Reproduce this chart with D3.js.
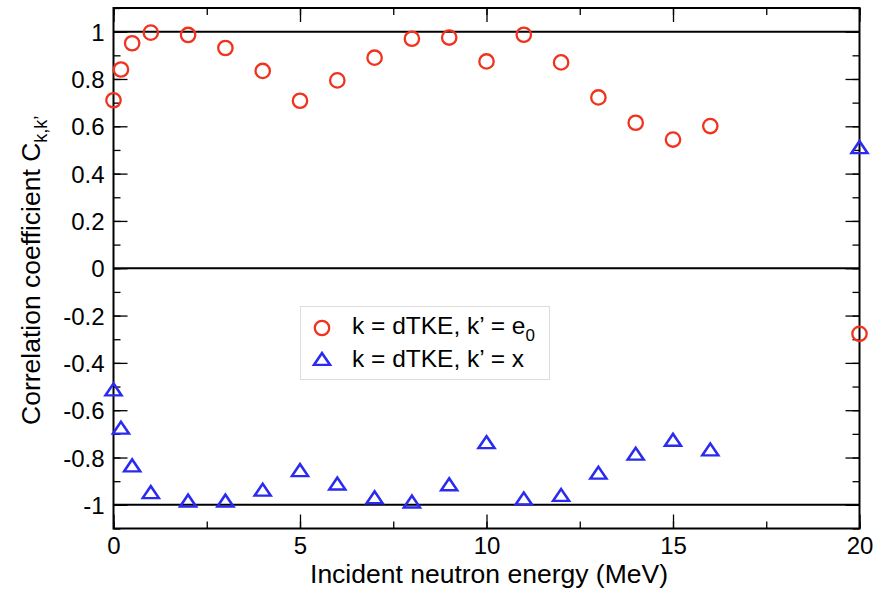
<!DOCTYPE html>
<html><head><meta charset="utf-8">
<script src="https://cdn.jsdelivr.net/npm/d3@7"></script>
<style>body{margin:0;background:#fff}svg{display:block}text{font-family:"Liberation Sans",Arial,Helvetica,sans-serif}</style>
</head><body>
<svg id="c" width="891" height="591"></svg>
<script>
const energies = [0, 0.2, 0.5, 1, 2, 3, 4, 5, 6, 7, 8, 9, 10, 11, 12, 13, 14, 15, 16, 20];
const corrE0 = [0.71, 0.84, 0.951, 0.996, 0.986, 0.931, 0.834, 0.708, 0.794, 0.89, 0.97, 0.975, 0.874, 0.987, 0.87, 0.722, 0.615, 0.544, 0.601, -0.277];
const corrX = [-0.512, -0.674, -0.833, -0.946, -0.982, -0.982, -0.936, -0.853, -0.91, -0.968, -0.986, -0.913, -0.735, -0.973, -0.958, -0.864, -0.784, -0.725, -0.766, 0.512];
const xTicks = [0, 5, 10, 15, 20];
const yTicks = [-1, -0.8, -0.6, -0.4, -0.2, 0, 0.2, 0.4, 0.6, 0.8, 1];
const refLines = [-1, 0, 1];
const legendLabels = ["k = dTKE, k\u2019 = e", "k = dTKE, k\u2019 = x"];

const svg = d3.select("#c");
const L = 113.5, R = 859.5, T = 8, B = 528.5;
const x = d3.scaleLinear().domain([0, 20]).range([L, R]);
const y = d3.scaleLinear().domain([-1.1, 1.1]).range([B, T]);
const red = "#f0321e", blue = "#2a2af0";

// reference lines
svg.selectAll("line.ref").data(refLines).enter().append("line")
  .attr("x1", L).attr("x2", R).attr("y1", d => y(d)).attr("y2", d => y(d))
  .attr("stroke", "#000").attr("stroke-width", 2);

const xMinor = d3.range(0, 20.01, 2.5);
const yMinor = d3.range(-11, 11.01, 1).map(v => v / 10);
function axisG(axis, tx, ty) {
  const g = svg.append("g").attr("transform", `translate(${tx},${ty})`).call(axis);
  g.select(".domain").remove();
  g.selectAll("line").attr("stroke", "#000").attr("stroke-width", 1.3);
  return g;
}
const fmtY = d => (d === 0 ? "0" : String(d)).replace("\u2212", "-");
// minor ticks
axisG(d3.axisBottom(x).tickValues(xMinor).tickSize(-7).tickFormat(""), 0, B);
axisG(d3.axisTop(x).tickValues(xMinor).tickSize(-7).tickFormat(""), 0, T);
axisG(d3.axisLeft(y).tickValues(yMinor).tickSize(-7).tickFormat(""), L, 0);
axisG(d3.axisRight(y).tickValues(yMinor).tickSize(-7).tickFormat(""), R, 0);
// major ticks
const xb = axisG(d3.axisBottom(x).tickValues(xTicks).tickSize(-14).tickPadding(8).tickFormat(d => String(d)), 0, B);
xb.selectAll("text").attr("font-size", 24).attr("fill", "#000");
axisG(d3.axisTop(x).tickValues(xTicks).tickSize(-14).tickFormat(""), 0, T);
const yl = axisG(d3.axisLeft(y).tickValues(yTicks).tickSize(-14).tickPadding(9).tickFormat(fmtY), L, 0);
yl.selectAll("text").attr("font-size", 24).attr("fill", "#000").attr("dy", "0.36em");
axisG(d3.axisRight(y).tickValues(yTicks).tickSize(-14).tickFormat(""), R, 0);

// frame
svg.append("rect").attr("x", L).attr("y", T).attr("width", R - L).attr("height", B - T)
  .attr("fill", "none").attr("stroke", "#000").attr("stroke-width", 2);

// data
const tri = d3.symbol().type(d3.symbolTriangle).size(82);
svg.selectAll("circle.e0").data(energies).enter().append("circle")
  .attr("cx", d => x(d)).attr("cy", (d, i) => y(corrE0[i])).attr("r", 7.2)
  .attr("fill", "none").attr("stroke", red).attr("stroke-width", 2.3);
svg.selectAll("path.tx").data(energies).enter().append("path")
  .attr("d", tri).attr("transform", (d, i) => `translate(${x(d)},${y(corrX[i]) + 2}) scale(1.17,1)`)
  .attr("fill", "none").attr("stroke", blue).attr("stroke-width", 2.3);

// legend
const lg = svg.append("g");
lg.append("rect").attr("x", 300.5).attr("y", 306.5).attr("width", 249).attr("height", 73)
  .attr("fill", "#fff").attr("stroke", "#ddd").attr("stroke-width", 1);
lg.append("circle").attr("cx", 322).attr("cy", 328).attr("r", 7.2)
  .attr("fill", "none").attr("stroke", red).attr("stroke-width", 2.3);
lg.append("path").attr("d", tri).attr("transform", "translate(322,361) scale(1.17,1)")
  .attr("fill", "none").attr("stroke", blue).attr("stroke-width", 2.3);
const t1 = lg.append("text").attr("x", 352).attr("y", 334).attr("font-size", 24.5).attr("fill", "#000").text(legendLabels[0]);
t1.append("tspan").attr("font-size", 17).attr("dy", 7).text("0");
lg.append("text").attr("x", 352).attr("y", 367).attr("font-size", 24.5).attr("fill", "#000").text(legendLabels[1]);

// axis titles
svg.append("text").attr("x", 489).attr("y", 583).attr("text-anchor", "middle")
  .attr("font-size", 26.5).attr("fill", "#000").text("Incident neutron energy (MeV)");
const yt = svg.append("text").attr("transform", `translate(40,425) rotate(-90)`)
  .attr("text-anchor", "start").attr("font-size", 26.5).attr("fill", "#000").text("Correlation coefficient C");
yt.append("tspan").attr("font-size", 18).attr("dy", 7).text("k,k\u2019");
</script>
</body></html>
